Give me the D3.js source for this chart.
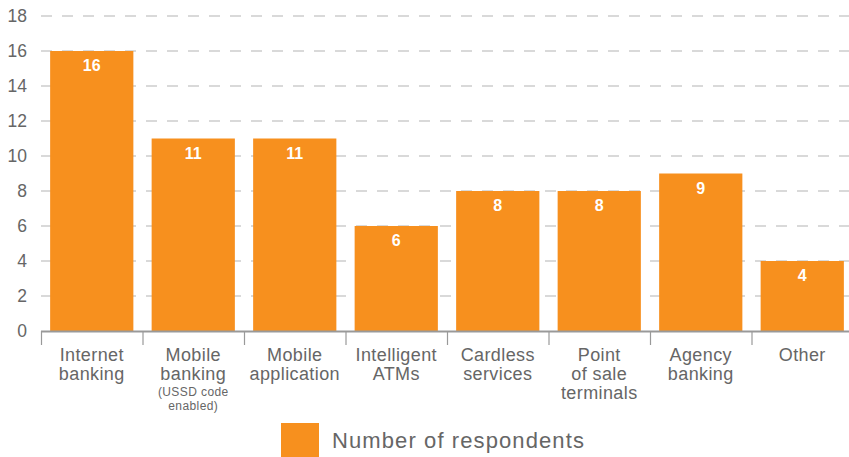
<!DOCTYPE html>
<html>
<head>
<meta charset="utf-8">
<script src="https://cdn.jsdelivr.net/npm/d3@7"></script>
<style>
  body { margin: 0; background: #fff; }
  text { font-family: "Liberation Sans", Arial, sans-serif; }
</style>
</head>
<body>
<script>
// data
var categories = ["Internet banking", "Mobile banking", "Mobile application", "Intelligent ATMs",
                  "Cardless services", "Point of sale terminals", "Agency banking", "Other"]
  , labelLines = [["Internet", "banking"], ["Mobile", "banking"], ["Mobile", "application"],
                  ["Intelligent", "ATMs"], ["Cardless", "services"], ["Point", "of sale", "terminals"],
                  ["Agency", "banking"], ["Other"]]
  , subLines   = [[], ["(USSD code", "enabled)"], [], [], [], [], [], []]
  , respondents = [16, 11, 11, 6, 8, 8, 9, 4]
  , yTicks     = [0, 2, 4, 6, 8, 10, 12, 14, 16, 18]
  , seriesName = "Number of respondents"

var W = 849, H = 457
  , orange = "#f7901e"
  , grey = "#666"

var svg = d3.select("body").append("svg").attr("width", W).attr("height", H)

var x = d3.scaleBand().domain(categories).range([41, 853]).paddingInner(0.18).paddingOuter(0.09)
  , y = d3.scaleLinear().domain([0, 18]).range([331, 16])

// gridlines
svg.append("g").selectAll("line").data(yTicks.filter(function (d) { return d > 0 }))
  .enter().append("line")
  .attr("x1", 41).attr("x2", W)
  .attr("y1", function (d) { return y(d) }).attr("y2", function (d) { return y(d) })
  .attr("stroke", "#b3b3b3").attr("stroke-width", 1.2)
  .attr("stroke-dasharray", "11,10")

// y labels
svg.append("g").selectAll("text").data(yTicks).enter().append("text")
  .attr("x", 27).attr("y", function (d) { return y(d) + 6 })
  .attr("text-anchor", "end").attr("fill", grey).style("font-size", "17.5px")
  .text(function (d) { return d })

// bars
svg.append("g").selectAll("rect").data(respondents).enter().append("rect")
  .attr("x", function (d, i) { return x(categories[i]) })
  .attr("width", x.bandwidth())
  .attr("y", function (d) { return y(d) })
  .attr("height", function (d) { return y(0) - y(d) })
  .attr("fill", orange)

// value labels
svg.append("g").selectAll("text").data(respondents).enter().append("text")
  .attr("x", function (d, i) { return x(categories[i]) + x.bandwidth() / 2 })
  .attr("y", function (d) { return y(d) + 20 })
  .attr("text-anchor", "middle").attr("fill", "#fff")
  .style("font-size", "16px").style("font-weight", "bold")
  .text(function (d) { return d })

// x axis line and separators
svg.append("line").attr("x1", 41).attr("x2", W).attr("y1", 331.5).attr("y2", 331.5)
  .attr("stroke", "#999").attr("stroke-width", 2)
var step = x.step()
svg.append("g").selectAll("line").data(d3.range(categories.length + 1)).enter().append("line")
  .attr("x1", function (i) { return 41.5 + i * step }).attr("x2", function (i) { return 41.5 + i * step })
  .attr("y1", 331).attr("y2", 345)
  .attr("stroke", "#999").attr("stroke-width", 1.2)

// category labels
var cat = svg.append("g").selectAll("g").data(categories).enter().append("g")
  .attr("transform", function (d) { return "translate(" + (x(d) + x.bandwidth() / 2) + ",0)" })
cat.each(function (d, i) {
  var g = d3.select(this)
  labelLines[i].forEach(function (l, k) {
    g.append("text").attr("y", 361 + k * 19).attr("text-anchor", "middle")
      .attr("fill", grey).style("font-size", "18px").style("letter-spacing", "0.4px").text(l)
  })
  subLines[i].forEach(function (l, k) {
    g.append("text").attr("y", 396 + k * 14).attr("text-anchor", "middle")
      .attr("fill", grey).style("font-size", "12px").style("letter-spacing", "0.4px").text(l)
  })
})

// legend
svg.append("rect").attr("x", 281).attr("y", 423).attr("width", 38).attr("height", 34).attr("fill", orange)
svg.append("text").attr("x", 332).attr("y", 448).attr("fill", grey)
  .style("font-size", "22px").style("letter-spacing", "1.1px").text(seriesName)
</script>
</body>
</html>
